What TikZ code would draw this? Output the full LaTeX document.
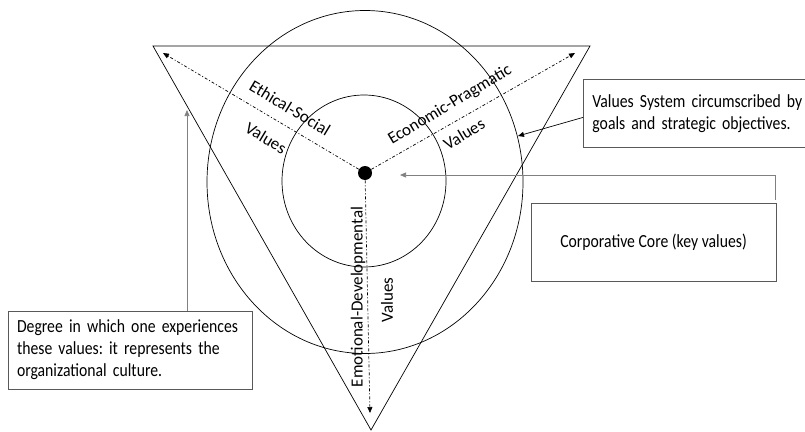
\documentclass[tikz,border=0pt]{standalone}
\usepackage{fontspec}
\setmainfont{Carlito}
\newfontfamily\narrowfont[FakeStretch=0.85]{Carlito}
\usetikzlibrary{arrows.meta}
\frenchspacing

\tikzset{
  pointer/.style={-{Triangle[length=6pt,width=5pt]}},
  axis/.style={dash pattern=on 3pt off 2pt on 1pt off 2pt, -{Triangle[length=6pt,width=5pt]}},
  axislabel/.style={font=\fontsize{17}{20}\selectfont, inner sep=0pt},
  notebox/.style={draw=black!65, line width=0.8pt, font=\narrowfont\fontsize{18.5}{22}\selectfont, inner xsep=9pt}
}

\begin{document}
\begin{tikzpicture}[x=1pt,y=-1pt,line width=0.7pt]
  \useasboundingbox (0,0) rectangle (805,431);

  \coordinate (tl) at (153,46);
  \coordinate (tr) at (590,46);
  \coordinate (tb) at (371,430);
  \draw (tl) -- (tr) -- (tb) -- cycle;

  \draw (365,182) ellipse [x radius=158pt, y radius=171.5pt];
  \draw (364,181) ellipse [x radius=82pt, y radius=86pt];

  \node[circle, fill, inner sep=0pt, minimum size=14pt] (hub) at (365,173) {};
  \coordinate (ethical) at (163,53);
  \coordinate (economic) at (575,53);
  \coordinate (emotional) at (370,413);

  \draw[axis] (hub) -- (ethical);
  \draw[axis] (hub) -- (economic);
  \draw[axis] (hub) -- (emotional);

  \node[axislabel, rotate=-31] (ethicalname) at (290,108) {Ethical-Social};
  \node[axislabel, rotate=-31] (ethicalval) at (266,138) {Values};
  \node[axislabel, rotate=31] (economicname) at (450,105) {Economic-Pragmatic};
  \node[axislabel, rotate=31] (economicval) at (464,134) {Values};
  \node[axislabel, rotate=90] (emotionalname) at (358,297) {Emotional-Developmental};
  \node[axislabel, rotate=90] (emotionalval) at (387,300) {Values};

  \node[notebox, anchor=north west, minimum height=68pt, text width=210pt, align=left] (goals) at (583,79)
    {Values System circumscribed by\\goals and strategic objectives.};
  \node[notebox, minimum width=245pt, minimum height=78pt] (core) at (653.5,242)
    {Corporative Core (key values)};
  \node[notebox, minimum height=78pt, text width=226pt, align=left] (degree) at (130,350)
    {Degree in which one experiences\\ these values: it represents the\\ organizational culture.};

  \coordinate (ringpt) at (518,136);
  \coordinate (hubtip) at (400,175);
  \coordinate (culturetip) at (187,110);

  \draw[pointer] ([yshift=-4pt]goals.west) -- (ringpt);
  \draw[pointer, gray] ([xshift=-1pt,yshift=3pt]core.north east) |- (hubtip);
  \draw[pointer, gray] (degree.north -| culturetip) -- (culturetip);
\end{tikzpicture}
\end{document}
